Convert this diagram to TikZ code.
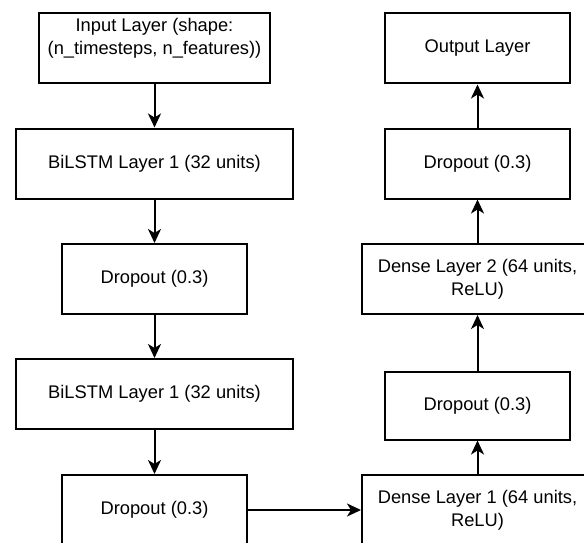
\documentclass[tikz,border=0pt]{standalone}
\usepackage{fontspec}
\setmainfont{Liberation Sans}
\usetikzlibrary{arrows.meta}

\begin{document}
\begin{tikzpicture}[x=1pt, y=-1pt, font=\fontsize{18.3}{23}\selectfont,
    layer/.style={draw, line width=2pt, inner sep=0pt, align=center, minimum height=70pt},
    widebox/.style={layer, minimum width=277pt},
    narrowbox/.style={layer, minimum width=185pt},
    densebox/.style={layer, minimum width=231pt},
    flow/.style={line width=2pt, -{Stealth[length=14pt, width=13pt, inset=4pt]}}]
    \pgfmathsetmacro{\lx}{154.5}
    \pgfmathsetmacro{\rx}{477.5}
    \useasboundingbox (0,0) rectangle (584,543);
    \clip (0,0) rectangle (584,543);
    % left column: recurrent part
    \node[densebox] (inp) at (\lx,48) {Input Layer (shape:\\(n\_timesteps, n\_features))\\ \mbox{}};
    \node[widebox] (bil1) at (\lx,163.5) {BiLSTM Layer 1 (32 units)};
    \node[narrowbox] (dropa) at (\lx,279) {Dropout (0.3)};
    \node[widebox] (bil2) at (\lx,394) {BiLSTM Layer 1 (32 units)};
    \node[narrowbox] (dropb) at (\lx,510) {Dropout (0.3)};
    % right column: dense part, read bottom to top
    \node[densebox] (den1) at (\rx,510) {Dense Layer 1 (64 units,\\ReLU)};
    \node[narrowbox, minimum height=68pt] (dropc) at (\rx,405.5) {Dropout (0.3)};
    \node[densebox] (den2) at (\rx,279) {Dense Layer 2 (64 units,\\ReLU)};
    \node[narrowbox] (dropd) at (\rx,163.5) {Dropout (0.3)};
    \node[narrowbox] (outp) at (\rx,48.5) {Output Layer};
    % connectors
    \draw[flow] (inp) -- (bil1);
    \draw[flow] (bil1) -- (dropa);
    \draw[flow] (dropa) -- (bil2);
    \draw[flow] (bil2) -- (dropb);
    \draw[flow] (dropb) -- (den1);
    \draw[flow] (den1) -- (dropc);
    \draw[flow] (dropc) -- (den2);
    \draw[flow] (den2) -- (dropd);
    \draw[flow] (dropd) -- (outp);
  \end{tikzpicture}
\end{document}
